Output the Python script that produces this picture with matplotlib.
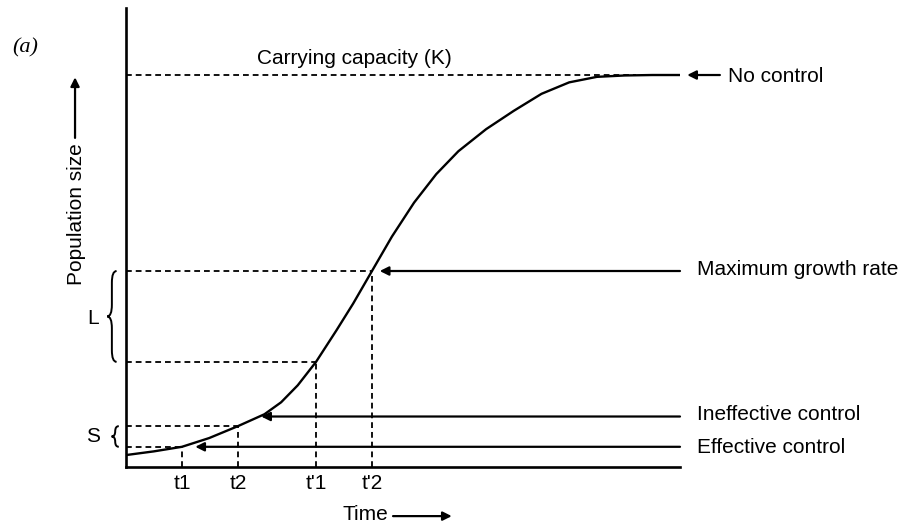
import numpy as np
import matplotlib
matplotlib.use("Agg")
import matplotlib.pyplot as plt
from matplotlib.path import Path
from matplotlib.patches import PathPatch

plt.rcParams['font.family'] = ['Liberation Sans', 'DejaVu Sans']

# curve (time, population size), axes run 0..100
curve_t = [0, 5, 10.1, 15, 20.2, 25, 28, 31, 34.3, 38, 41, 44.4,
           48, 52, 56, 60, 65, 70, 75, 80, 85, 90, 95, 100]
curve_n = [2.6, 3.4, 4.4, 6.3, 8.9, 11.5, 14.1, 17.8, 22.9, 29.8, 35.6, 42.7,
           50.2, 57.6, 63.8, 68.8, 73.6, 77.6, 81.3, 83.8, 85.0, 85.3, 85.4, 85.4]

K = 85.4
times = [10.1, 20.2, 34.3, 44.4]
time_labels = ["t1", "t2", "t'1", "t'2"]
levels = [4.4, 8.9, 22.9, 42.7]

# horizontal arrows: label, y of line, tip x
arrow_labels = ["Maximum growth rate", "Ineffective control", "Effective control"]
arrow_y = [42.7, 11.0, 4.4]
arrow_tip = [45.8, 24.4, 12.5]
label_base = [41.8, 10.2, 3.1]


def brace(ax, x, y0, y1, w):
    ym = (y0 + y1) / 2
    r = min(w * 1.5, (y1 - y0) / 4)
    xm = x + w / 2
    verts = [(x + w, y1), (xm, y1), (xm, y1 - r),
             (xm, ym + r), (xm, ym), (x, ym),
             (xm, ym), (xm, ym - r),
             (xm, y0 + r), (xm, y0), (x + w, y0)]
    codes = [Path.MOVETO, Path.CURVE3, Path.CURVE3,
             Path.LINETO, Path.CURVE3, Path.CURVE3,
             Path.CURVE3, Path.CURVE3,
             Path.LINETO, Path.CURVE3, Path.CURVE3]
    ax.add_patch(PathPatch(Path(verts, codes), fill=False, lw=1.4,
                           color="black", clip_on=False))


fig = plt.figure(figsize=(9.09, 5.25), dpi=100)
ax = fig.add_axes([126 / 909, 58 / 525, 554 / 909, 459 / 525])
ax.set_xlim(0, 100)
ax.set_ylim(0, 100)
for s in ["top", "right"]:
    ax.spines[s].set_visible(False)
for s in ["left", "bottom"]:
    ax.spines[s].set_linewidth(1.9)
ax.set_xticks([])
ax.set_yticks([])

dash = (0, (3.2, 2.2))
ax.plot(curve_t, curve_n, color="black", lw=1.7, solid_joinstyle="round")

# carrying capacity
ax.plot([0, 92], [K, K], color="black", lw=1.3, linestyle=dash)
ax.text(23.6, 87.9, "Carrying capacity (K)", fontsize=15, va="baseline")

# dashed guides to the axes
for t, lv, lab in zip(times, levels, time_labels):
    ax.plot([0, t], [lv, lv], color="black", lw=1.3, linestyle=dash)
    ax.plot([t, t], [0, lv], color="black", lw=1.3, linestyle=dash)
    ax.text(t, -1.5, lab, fontsize=15, ha="center", va="top")

# control arrows
arrow_kw = dict(arrowstyle="-|>", color="black", lw=1.6, mutation_scale=13,
                shrinkA=0, shrinkB=0)
for lab, y, tip, yb in zip(arrow_labels, arrow_y, arrow_tip, label_base):
    ax.annotate("", xy=(tip, y), xytext=(100, y), arrowprops=arrow_kw)
    ax.text(103.1, yb, lab, fontsize=15, va="baseline")

ax.annotate("", xy=(101.3, K), xytext=(107.2, K), arrowprops=arrow_kw,
            annotation_clip=False)
ax.text(108.7, 83.8, "No control", fontsize=15, va="baseline")

# L and S brackets
brace(ax, -3.4, 22.9, 42.7, 1.7)
ax.text(-6.0, 32.3, "L", fontsize=15, ha="center", va="center")
brace(ax, -2.6, 4.4, 8.9, 1.3)
ax.text(-6.0, 6.7, "S", fontsize=15, ha="center", va="center")

# axis titles with arrows
ax.text(-9.0, 55.2, "Population size", fontsize=15, rotation=90,
        ha="center", va="center")
ax.annotate("", xy=(-9.2, 84.9), xytext=(-9.2, 71.7), arrowprops=arrow_kw,
            annotation_clip=False)
ax.text(39.0, -11.5, "Time", fontsize=15, va="baseline")
ax.annotate("", xy=(58.8, -10.7), xytext=(48.2, -10.7), arrowprops=arrow_kw,
            annotation_clip=False)

ax.text(-20.6, 90.4, "(a)", fontsize=16, style="italic",
        family=["Liberation Serif", "DejaVu Serif"], va="baseline")

fig.savefig("out.png", dpi=100)
